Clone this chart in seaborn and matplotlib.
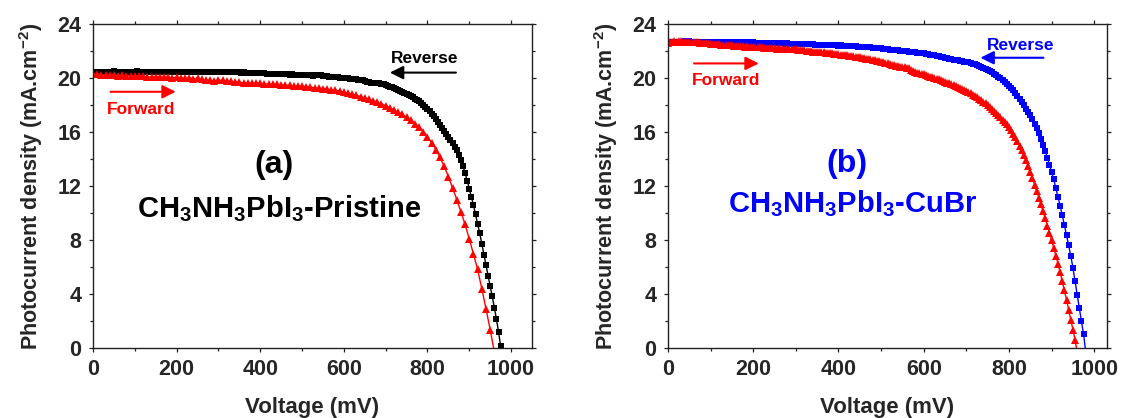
import numpy as np
import pandas as pd
import matplotlib
matplotlib.use("Agg")
import matplotlib.pyplot as plt
import seaborn as sns
from matplotlib.ticker import MultipleLocator

sns.set_style("ticks")
plt.rcParams["font.family"] = ["Liberation Sans", "DejaVu Sans"]
plt.rcParams["font.weight"] = "bold"
plt.rcParams["axes.labelweight"] = "bold"
plt.rcParams["mathtext.fontset"] = "custom"
plt.rcParams["mathtext.rm"] = "Liberation Sans:bold"
plt.rcParams["mathtext.bf"] = "Liberation Sans:bold"
plt.rcParams["mathtext.default"] = "bf"

# J-V sweeps, photocurrent density in mA/cm^2
# (a) pristine film: reverse scan every 5 mV, forward scan every 10 mV
j_rev_a = [
    20.42, 20.45, 20.47, 20.44, 20.46, 20.48, 20.45, 20.43, 20.46, 20.48,
    20.50, 20.47, 20.45, 20.44, 20.46, 20.45, 20.43, 20.45, 20.47, 20.46,
    20.48, 20.50, 20.47, 20.45, 20.46, 20.48, 20.46, 20.44, 20.45, 20.47,
    20.46, 20.44, 20.45, 20.47, 20.48, 20.46, 20.45, 20.47, 20.48, 20.46,
    20.45, 20.47, 20.48, 20.47, 20.45, 20.46, 20.48, 20.47, 20.46, 20.45,
    20.47, 20.48, 20.46, 20.45, 20.47, 20.46, 20.45, 20.46, 20.47, 20.45,
    20.44, 20.45, 20.46, 20.44, 20.43, 20.44, 20.45, 20.43, 20.42, 20.43,
    20.41, 20.40, 20.41, 20.40, 20.38, 20.39, 20.38, 20.37, 20.36, 20.37,
    20.36, 20.34, 20.35, 20.33, 20.32, 20.33, 20.31, 20.30, 20.31, 20.29,
    20.28, 20.27, 20.28, 20.26, 20.25, 20.26, 20.24, 20.23, 20.24, 20.22,
    20.21, 20.22, 20.20, 20.19, 20.20, 20.18, 20.19, 20.20, 20.22, 20.21,
    20.18, 20.15, 20.12, 20.10, 20.09, 20.07, 20.06, 20.04, 20.03, 20.02,
    20.00, 19.99, 19.98, 19.96, 19.95, 19.93, 19.91, 19.88, 19.85, 19.82,
    19.78, 19.74, 19.70, 19.66, 19.64, 19.63, 19.63, 19.61, 19.57, 19.52,
    19.47, 19.42, 19.36, 19.30, 19.24, 19.17, 19.10, 19.03, 18.96, 18.89,
    18.82, 18.74, 18.66, 18.57, 18.48, 18.38, 18.27, 18.15, 18.02, 17.88,
    17.72, 17.55, 17.36, 17.16, 16.95, 16.74, 16.52, 16.30, 16.08, 15.86,
    15.65, 15.42, 15.18, 14.92, 14.64, 14.30, 13.90, 13.45, 12.95, 12.40,
    11.80, 11.20, 10.58, 9.90, 9.18, 8.50, 7.72, 6.92, 6.12, 5.35,
    4.58, 3.82, 3.00, 2.12, 1.18, 0.14,
]
j_fwd_a = [
    20.30, 20.28, 20.25, 20.22, 20.22, 20.20, 20.18, 20.20, 20.18, 20.15,
    20.18, 20.15, 20.12, 20.10, 20.08, 20.10, 20.08, 20.05, 20.05, 20.02,
    20.05, 20.00, 19.98, 20.00, 19.95, 19.98, 19.90, 19.85, 19.82, 19.80,
    19.85, 19.82, 19.78, 19.75, 19.70, 19.68, 19.65, 19.62, 19.60, 19.62,
    19.60, 19.58, 19.55, 19.55, 19.52, 19.50, 19.48, 19.45, 19.42, 19.40,
    19.38, 19.35, 19.32, 19.28, 19.25, 19.22, 19.18, 19.12, 19.08, 19.02,
    18.95, 18.88, 18.80, 18.72, 18.62, 18.52, 18.42, 18.32, 18.20, 18.08,
    17.95, 17.80, 17.65, 17.48, 17.30, 17.10, 16.88, 16.62, 16.35, 16.02,
    15.65, 15.20, 14.70, 14.12, 13.45, 12.70, 11.85, 11.00, 10.08, 9.15,
    8.08, 6.95, 5.82, 4.38, 2.90, 1.35, -0.30,
]

# (b) CuBr-treated film: both scans every 5 mV
j_rev_b = [
    22.55, 22.62, 22.66, 22.68, 22.69, 22.70, 22.68, 22.69, 22.71, 22.70,
    22.72, 22.70, 22.69, 22.70, 22.68, 22.69, 22.70, 22.68, 22.67, 22.68,
    22.69, 22.67, 22.66, 22.67, 22.68, 22.66, 22.65, 22.66, 22.67, 22.65,
    22.64, 22.65, 22.66, 22.64, 22.63, 22.64, 22.65, 22.63, 22.62, 22.63,
    22.64, 22.62, 22.61, 22.62, 22.60, 22.61, 22.60, 22.58, 22.59, 22.60,
    22.58, 22.57, 22.58, 22.56, 22.57, 22.55, 22.56, 22.54, 22.55, 22.53,
    22.54, 22.52, 22.53, 22.51, 22.52, 22.50, 22.51, 22.49, 22.50, 22.48,
    22.47, 22.48, 22.46, 22.45, 22.46, 22.44, 22.43, 22.44, 22.42, 22.41,
    22.40, 22.41, 22.39, 22.38, 22.37, 22.38, 22.36, 22.35, 22.34, 22.33,
    22.32, 22.31, 22.30, 22.28, 22.27, 22.26, 22.25, 22.23, 22.22, 22.21,
    22.20, 22.18, 22.16, 22.13, 22.11, 22.09, 22.07, 22.06, 22.04, 22.03,
    22.01, 21.99, 21.98, 21.96, 21.94, 21.92, 21.90, 21.88, 21.86, 21.84,
    21.82, 21.79, 21.76, 21.73, 21.70, 21.67, 21.64, 21.61, 21.58, 21.54,
    21.50, 21.46, 21.42, 21.39, 21.36, 21.34, 21.32, 21.29, 21.26, 21.22,
    21.18, 21.15, 21.10, 21.06, 21.02, 20.96, 20.90, 20.83, 20.76, 20.68,
    20.60, 20.52, 20.42, 20.32, 20.21, 20.10, 19.97, 19.85, 19.72, 19.58,
    19.43, 19.26, 19.08, 18.88, 18.66, 18.44, 18.22, 17.98, 17.74, 17.50,
    17.26, 16.95, 16.62, 16.28, 15.90, 15.48, 15.05, 14.60, 14.10, 13.57,
    13.05, 12.50, 11.85, 11.20, 10.53, 9.84, 9.10, 8.38, 7.62, 6.82,
    5.96, 4.98, 3.95, 2.95, 1.98, 1.02, -0.25,
]
j_fwd_b = [
    22.60, 22.66, 22.70, 22.72, 22.70, 22.73, 22.71, 22.70, 22.68, 22.69,
    22.67, 22.66, 22.64, 22.65, 22.63, 22.62, 22.60, 22.61, 22.58, 22.57,
    22.55, 22.54, 22.52, 22.51, 22.50, 22.48, 22.47, 22.45, 22.44, 22.42,
    22.43, 22.40, 22.38, 22.37, 22.36, 22.34, 22.33, 22.34, 22.32, 22.30,
    22.29, 22.30, 22.28, 22.27, 22.26, 22.24, 22.23, 22.22, 22.21, 22.20,
    22.19, 22.18, 22.19, 22.17, 22.16, 22.15, 22.16, 22.14, 22.13, 22.13,
    22.12, 22.10, 22.08, 22.06, 22.04, 22.02, 22.00, 21.98, 21.96, 21.94,
    21.93, 21.92, 21.90, 21.89, 21.88, 21.86, 21.84, 21.82, 21.80, 21.77,
    21.75, 21.73, 21.72, 21.70, 21.68, 21.66, 21.63, 21.60, 21.58, 21.55,
    21.53, 21.50, 21.47, 21.44, 21.41, 21.38, 21.35, 21.31, 21.28, 21.24,
    21.21, 21.17, 21.13, 21.09, 21.05, 21.00, 20.96, 20.92, 20.88, 20.85,
    20.82, 20.79, 20.77, 20.74, 20.62, 20.50, 20.45, 20.40, 20.36, 20.31,
    20.26, 20.21, 20.16, 20.11, 20.06, 20.01, 19.95, 19.90, 19.84, 19.78,
    19.72, 19.66, 19.60, 19.54, 19.47, 19.41, 19.34, 19.27, 19.20, 19.12,
    19.04, 18.95, 18.86, 18.77, 18.67, 18.57, 18.47, 18.36, 18.25, 18.14,
    18.03, 17.88, 17.73, 17.57, 17.41, 17.25, 17.09, 16.92, 16.75, 16.57,
    16.38, 16.13, 15.87, 15.60, 15.30, 14.97, 14.63, 14.27, 13.90, 13.47,
    13.03, 12.58, 12.11, 11.62, 11.13, 10.63, 10.12, 9.60, 9.07, 8.53,
    7.98, 7.42, 6.84, 6.25, 5.62, 4.96, 4.28, 3.57, 2.84, 2.10,
    1.36, 0.62, -0.30,
]

# voltage grids (mV) for each sweep
v_rev_a = np.arange(len(j_rev_a)) * 5
v_fwd_a = np.arange(len(j_fwd_a)) * 10
v_rev_b = np.arange(len(j_rev_b)) * 5
v_fwd_b = np.arange(len(j_fwd_b)) * 5

panel_tags = ["(a)", "(b)"]
sample_names = [r"CH$_3$NH$_3$PbI$_3$-Pristine", r"CH$_3$NH$_3$PbI$_3$-CuBr"]
scan_labels = ["Reverse", "Forward"]
x_ticks = [0, 200, 400, 600, 800, 1000]
y_ticks = [0, 4, 8, 12, 16, 20, 24]

RED, BLACK, BLUE = "#ff0000", "#000000", "#0000ff"

fig = plt.figure(figsize=(11.22, 4.18), dpi=100)
ax_a = fig.add_axes([93 / 1122, 70 / 418, 439 / 1122, 324 / 418])
ax_b = fig.add_axes([668 / 1122, 70 / 418, 439 / 1122, 324 / 418])


def draw_curve(ax, v, j, color, marker, ms):
    df = pd.DataFrame({"V": v, "J": j})
    sns.lineplot(data=df, x="V", y="J", ax=ax, color=color, marker=marker,
                 markersize=ms, markeredgewidth=0, linewidth=1.0,
                 estimator=None, sort=False, legend=False)


draw_curve(ax_a, v_rev_a, j_rev_a, BLACK, "s", 4.2)
draw_curve(ax_a, v_fwd_a, j_fwd_a, RED, "^", 5.2)
draw_curve(ax_b, v_rev_b, j_rev_b, BLUE, "s", 4.2)
draw_curve(ax_b, v_fwd_b, j_fwd_b, RED, "^", 5.2)


def style_axes(ax, xmax):
    ax.set_xlim(0, xmax)
    ax.set_ylim(0, 24)
    ax.set_xticks(x_ticks)
    ax.set_yticks(y_ticks)
    ax.xaxis.set_minor_locator(MultipleLocator(100))
    ax.yaxis.set_minor_locator(MultipleLocator(2))
    for side in ["top", "right", "bottom", "left"]:
        ax.spines[side].set_visible(True)
        ax.spines[side].set_linewidth(1.0)
        ax.spines[side].set_color("#222222")
    ax.tick_params(which="both", direction="out", top=True, right=True,
                   color="#222222", width=0.9)
    ax.tick_params(which="major", length=3.2, labelsize=15.5, pad=5)
    ax.tick_params(which="minor", length=2.0)
    ax.tick_params(axis="x", which="major", pad=5)
    for lab in ax.get_xticklabels() + ax.get_yticklabels():
        lab.set_fontweight("bold")
    ax.set_xlabel("Voltage (mV)", fontsize=16, fontweight="bold", labelpad=12)
    ax.set_ylabel(r"Photocurrent density (mA.cm$^{-2}$)", fontsize=15.5,
                  fontweight="bold", labelpad=9)


style_axes(ax_a, 1050)
style_axes(ax_b, 1030)


def scan_arrow(ax, tail, head, color):
    ax.annotate("", xy=head, xytext=tail,
                arrowprops=dict(arrowstyle="-|>", color=color, lw=1.5,
                                mutation_scale=20, shrinkA=0, shrinkB=0))


# panel (a) annotations
ax_a.text(434, 12.95, panel_tags[0], ha="center", va="baseline",
          fontsize=23, fontweight="bold", color=BLACK)
ax_a.text(444, 9.7, sample_names[0], ha="center", va="baseline",
          fontsize=21, fontweight="bold", color=BLACK)
ax_a.text(794, 21.1, scan_labels[0], ha="center", va="baseline",
          fontsize=12.5, fontweight="bold", color=BLACK)
scan_arrow(ax_a, (868, 20.4), (710, 20.4), BLACK)
ax_a.text(115, 17.32, scan_labels[1], ha="center", va="baseline",
          fontsize=12.5, fontweight="bold", color=RED)
scan_arrow(ax_a, (42, 18.98), (198, 18.98), RED)

# panel (b) annotations
ax_b.text(420, 13.05, panel_tags[1], ha="center", va="baseline",
          fontsize=23, fontweight="bold", color=BLUE)
ax_b.text(434, 10.05, sample_names[1], ha="center", va="baseline",
          fontsize=21, fontweight="bold", color=BLUE)
ax_b.text(828, 22.07, scan_labels[0], ha="center", va="baseline",
          fontsize=12.5, fontweight="bold", color=BLUE)
scan_arrow(ax_b, (881, 21.5), (733, 21.5), BLUE)
ax_b.text(136, 19.47, scan_labels[1], ha="center", va="baseline",
          fontsize=12.5, fontweight="bold", color=RED)
scan_arrow(ax_b, (61, 21.08), (213, 21.08), RED)

fig.savefig("out.png", dpi=100)
